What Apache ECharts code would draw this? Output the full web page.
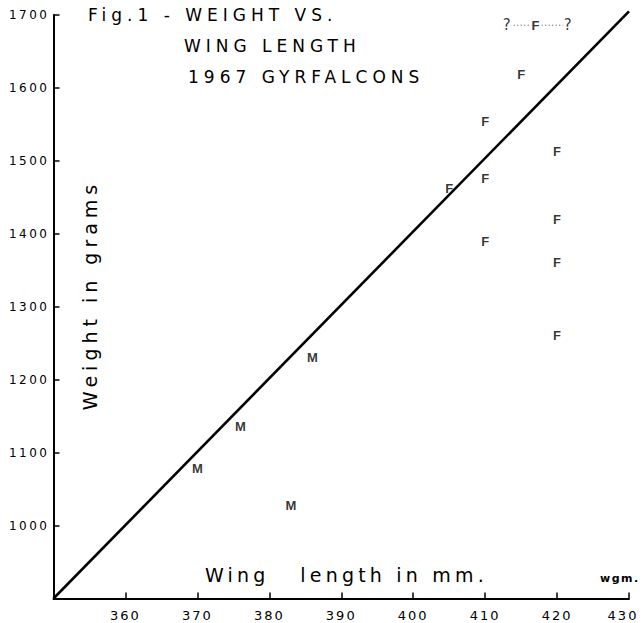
<!DOCTYPE html>
<html><head><meta charset="utf-8">
<script src="https://cdn.jsdelivr.net/npm/echarts@6/dist/echarts.min.js"></script>
<style>html,body{margin:0;padding:0;background:#fff}#main{width:642px;height:623px}</style>
</head><body><div id="main"></div>
<script>
// ---- data ----
const xTicks = [350, 360, 370, 380, 390, 400, 410, 420, 430];
const yTicks = [900, 1000, 1100, 1200, 1300, 1400, 1500, 1600, 1700];
const maleWing   = [370, 376, 383, 386];
const maleWeight = [1078, 1136, 1028, 1231];
const femaleWing   = [405, 410, 410, 410, 415, 420, 420, 420, 420];
const femaleWeight = [1462, 1554, 1476, 1389, 1618, 1513, 1419, 1360, 1261];
const uncertainWing = 417;
const uncertainWeight = 1686;
const uncertainRange = [413, 421.5];
const fitWing = [350, 430];
const fitWeight = [900, 1705];
const titleLines = ['Fig.1 - WEIGHT VS.', 'WING LENGTH', '1967 GYRFALCONS'];
const xName = 'Wing   length in mm.';
const yName = 'Weight in grams';
const credit = 'wgm.';

const FONT = "'DejaVu Sans', sans-serif";
const chart = echarts.init(document.getElementById('main'), null, {renderer: 'svg'});

const letterLabel = (txt) => ({
  show: true, position: 'inside', formatter: txt, color: '#000',
  fontFamily: "'Liberation Sans', sans-serif", fontWeight: 'bold', fontSize: 13
});

chart.setOption({
  animation: false,
  backgroundColor: '#fff',
  grid: {left: 53.5, right: 13, top: 15, bottom: 24.5, outerBoundsMode: 'none'},
  xAxis: {
    type: 'value', min: xTicks[0], max: xTicks[xTicks.length - 1], interval: 10,
    axisLine: {show: true, onZero: false, lineStyle: {color: '#000', width: 2}},
    axisTick: {show: true, inside: true, length: 6, lineStyle: {color: '#000', width: 1.5}},
    splitLine: {show: false},
    axisLabel: {margin: 10, color: '#000', fontFamily: FONT, fontSize: 13,
      formatter: v => (v === xTicks[0] ? '' : (v === xTicks[xTicks.length - 1] ? '{last|' + v + '}' : String(v))),
      rich: {last: {fontFamily: FONT, fontSize: 13, color: '#000', padding: [0, 12, 0, 0]}}}
  },
  yAxis: {
    type: 'value', min: yTicks[0], max: yTicks[yTicks.length - 1], interval: 100,
    axisLine: {show: true, onZero: false, lineStyle: {color: '#000', width: 2}},
    axisTick: {show: true, inside: true, length: 6, lineStyle: {color: '#000', width: 1.5}},
    splitLine: {show: false},
    axisLabel: {margin: 4, color: '#000', fontFamily: FONT, fontSize: 12,
      formatter: v => (v === yTicks[0] ? '' : String(v))}
  },
  series: [
    {
      type: 'line', silent: true, clip: false, symbol: 'none',
      data: fitWing.map((w, i) => [w, fitWeight[i]]),
      lineStyle: {color: '#000', width: 2.6}, z: 2
    },
    {
      type: 'line', silent: true, clip: false, symbol: 'none',
      data: uncertainRange.map(w => [w, uncertainWeight]),
      lineStyle: {color: '#444', width: 1, type: [1, 2.5]}, z: 2
    },
    {
      type: 'scatter', silent: true, symbolSize: 10,
      itemStyle: {color: 'rgba(0,0,0,0)'},
      data: maleWing.map((w, i) => [w, maleWeight[i]]),
      label: letterLabel('M'), z: 3
    },
    {
      type: 'scatter', silent: true, symbolSize: 10,
      itemStyle: {color: 'rgba(0,0,0,0)'},
      data: femaleWing.map((w, i) => [w, femaleWeight[i]]),
      label: letterLabel('F'), z: 3
    },
    {
      type: 'scatter', silent: true, symbolSize: 10,
      itemStyle: {color: 'rgba(0,0,0,0)'},
      data: [
        {value: [uncertainRange[0], uncertainWeight],
         label: {formatter: '?', fontFamily: FONT, fontWeight: 'normal', fontSize: 15, backgroundColor: '#fff', padding: [0, 1]}},
        {value: [uncertainWing, uncertainWeight],
         label: {backgroundColor: '#fff', padding: [0, 2]}},
        {value: [uncertainRange[1], uncertainWeight],
         label: {formatter: '?', fontFamily: FONT, fontWeight: 'normal', fontSize: 15, backgroundColor: '#fff', padding: [0, 1]}}
      ],
      label: letterLabel('F'), z: 4
    }
  ],
  graphic: [
    {type: 'text', x: 88, y: 15, silent: true,
     style: {text: titleLines[0], font: '17px ' + FONT, fill: '#000', align: 'left', verticalAlign: 'middle'}},
    {type: 'text', x: 184, y: 46, silent: true,
     style: {text: titleLines[1], font: '17px ' + FONT, fill: '#000', align: 'left', verticalAlign: 'middle'}},
    {type: 'text', x: 188, y: 77, silent: true,
     style: {text: titleLines[2], font: '17px ' + FONT, fill: '#000', align: 'left', verticalAlign: 'middle'}},
    {type: 'text', x: 205, y: 575, silent: true,
     style: {text: xName, font: '19px ' + FONT, fill: '#000', align: 'left', verticalAlign: 'middle'}},
    {type: 'text', x: 90, y: 295, rotation: Math.PI / 2, silent: true,
     style: {text: yName, font: '19px ' + FONT, fill: '#000', align: 'center', verticalAlign: 'middle'}},
    {type: 'text', x: 600, y: 578, silent: true,
     style: {text: credit, font: 'bold 11px ' + FONT, fill: '#000', align: 'left', verticalAlign: 'middle'}}
  ]
});

function spacingFor(t) {
  if (/^\d{4}$/.test(t)) return 2.5;
  if (/^\d{3}$/.test(t)) return 2;
  if (t === credit) return 1.5;
  if (t === xName.trim()) return 4.2;
  if (t.length > 5) return 5;
  return 0;
}
function applySpacing() {
  document.querySelectorAll('#main svg text').forEach(el => {
    const s = spacingFor(el.textContent.trim());
    if (s && el.getAttribute('letter-spacing') !== String(s)) el.setAttribute('letter-spacing', s);
  });
}
applySpacing();
chart.on('finished', applySpacing);
setTimeout(applySpacing, 50);
new MutationObserver(applySpacing).observe(document.getElementById('main'), {childList: true, subtree: true});
</script>
</body></html>
